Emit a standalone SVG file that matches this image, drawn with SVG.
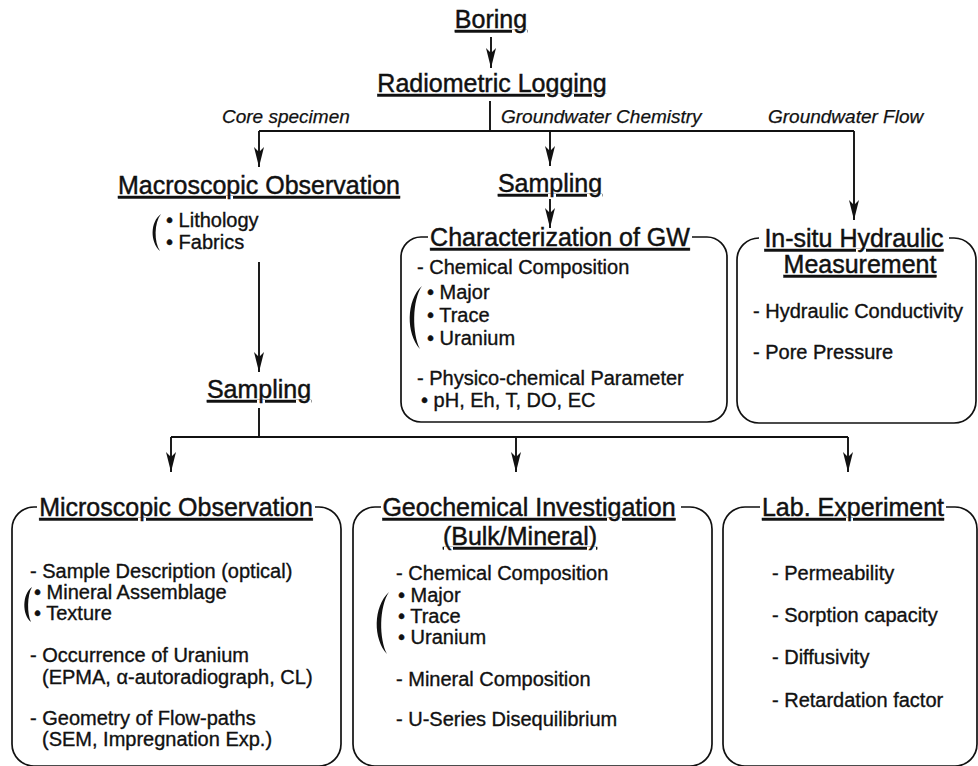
<svg xmlns="http://www.w3.org/2000/svg" width="978" height="766" viewBox="0 0 978 766">
  <style>
    text { font-family: "Liberation Sans", Arial, Helvetica, sans-serif; fill: #111; stroke: #111; stroke-width: 0.35; }
    .hd { font-size: 25px; text-decoration: underline; stroke-width: 0.45; }
    .bd { font-size: 20px; }
    .it { font-size: 19px; font-style: italic; stroke-width: 0.25; }
    .box { fill: none; stroke: #111; stroke-width: 1.7; }
    .ln { fill: none; stroke: #111; stroke-width: 1.9; }
    .arw { fill: none; stroke: #111; stroke-width: 1.9; marker-end: url(#head); }
    .br { fill: #111; stroke: none; }
  </style>
  <defs>
    <marker id="head" markerUnits="userSpaceOnUse" markerWidth="22" markerHeight="14" refX="20" refY="7" orient="auto">
      <path d="M0,2 L20,7 L0,12 L5,7 Z" fill="#111"/>
    </marker>
  </defs>

  <!-- connectors -->
  <g id="connectors">
    <line class="arw" x1="491" y1="37" x2="491" y2="68"/>
    <line class="ln" x1="490" y1="101" x2="490" y2="131"/>
    <line class="ln" x1="259" y1="131" x2="854" y2="131"/>
    <line class="arw" x1="259" y1="131" x2="259" y2="167"/>
    <line class="arw" x1="550" y1="131" x2="550" y2="166"/>
    <line class="arw" x1="854" y1="131" x2="854" y2="220"/>
    <line class="arw" x1="550" y1="199" x2="550" y2="228"/>
    <line class="arw" x1="259" y1="262" x2="259" y2="372"/>
    <line class="ln" x1="259" y1="408" x2="259" y2="437"/>
    <line class="ln" x1="171" y1="437" x2="848" y2="437"/>
    <line class="arw" x1="171" y1="437" x2="171" y2="472"/>
    <line class="arw" x1="516" y1="437" x2="516" y2="472"/>
    <line class="arw" x1="848" y1="437" x2="848" y2="472"/>
  </g>

  <g id="boring">
    <text class="hd" x="491" y="28" text-anchor="middle">Boring</text>
  </g>

  <g id="radiometric-logging">
    <text class="hd" x="492" y="92" text-anchor="middle">Radiometric Logging</text>
  </g>

  <g id="branch-labels">
    <text class="it" x="222" y="123">Core specimen</text>
    <text class="it" x="501" y="123">Groundwater Chemistry</text>
    <text class="it" x="768" y="123">Groundwater Flow</text>
  </g>

  <g id="macroscopic-observation">
    <text class="hd" x="259" y="194" text-anchor="middle">Macroscopic Observation</text>
    <path class="br" d="M161,214 C150,222 150,242 160,251 C154,242 154,223 161,214 Z"/>
    <text class="bd" x="166" y="227">• Lithology</text>
    <text class="bd" x="166" y="249">• Fabrics</text>
  </g>

  <g id="sampling-gw">
    <text class="hd" x="550" y="192" text-anchor="middle">Sampling</text>
  </g>

  <g id="characterization-gw">
    <path class="box" d="M428,237 H421 A20,20 0 0 0 401,257 V402 A20,20 0 0 0 421,422 H707 A20,20 0 0 0 727,402 V257 A20,20 0 0 0 707,237 H692"/>
    <text class="hd" x="560" y="246" text-anchor="middle">Characterization of GW</text>
    <text class="bd" x="417" y="274">- Chemical Composition</text>
    <path class="br" d="M422,286 C406,300 406,334 420,349 C412,334 412,300 422,286 Z"/>
    <text class="bd" x="427" y="299">• Major</text>
    <text class="bd" x="427" y="322">• Trace</text>
    <text class="bd" x="427" y="345">• Uranium</text>
    <text class="bd" x="417" y="385">- Physico-chemical Parameter</text>
    <text class="bd" x="421" y="407">• pH, Eh, T, DO, EC</text>
  </g>

  <g id="in-situ-hydraulic">
    <path class="box" d="M759,238 A22,22 0 0 0 737,260 V401 A22,22 0 0 0 759,423 H954 A22,22 0 0 0 976,401 V260 A22,22 0 0 0 954,238 H949"/>
    <text class="hd" x="854" y="247" text-anchor="middle">In-situ Hydraulic</text>
    <text class="hd" x="860" y="273" text-anchor="middle">Measurement</text>
    <text class="bd" x="753" y="318">- Hydraulic Conductivity</text>
    <text class="bd" x="753" y="359">- Pore Pressure</text>
  </g>

  <g id="sampling-core">
    <text class="hd" x="259" y="398" text-anchor="middle">Sampling</text>
  </g>

  <g id="microscopic-observation">
    <path class="box" d="M37,507 H34 A22,22 0 0 0 12,529 V744 A22,22 0 0 0 34,766 H319 A22,22 0 0 0 341,744 V529 A22,22 0 0 0 319,507 H315"/>
    <text class="hd" x="176" y="516" text-anchor="middle">Microscopic Observation</text>
    <text class="bd" x="30" y="578">- Sample Description (optical)</text>
    <path class="br" d="M32,587 C22,594 22,615 31,622 C27,614 27,595 32,587 Z"/>
    <text class="bd" x="34" y="599">• Mineral Assemblage</text>
    <text class="bd" x="34" y="620">• Texture</text>
    <text class="bd" x="30" y="662">- Occurrence of Uranium</text>
    <text class="bd" x="42" y="684">(EPMA, α-autoradiograph, CL)</text>
    <text class="bd" x="30" y="725">- Geometry of Flow-paths</text>
    <text class="bd" x="42" y="746">(SEM, Impregnation Exp.)</text>
  </g>

  <g id="geochemical-investigation">
    <path class="box" d="M381,507 H375 A22,22 0 0 0 353,529 V744 A22,22 0 0 0 375,766 H690 A22,22 0 0 0 712,744 V529 A22,22 0 0 0 690,507 H681"/>
    <text class="hd" x="529" y="516" text-anchor="middle">Geochemical Investigation</text>
    <text class="hd" x="520" y="545" text-anchor="middle">(Bulk/Mineral)</text>
    <text class="bd" x="396" y="580">- Chemical Composition</text>
    <path class="br" d="M389,592 C373,607 373,639 387,654 C379,639 379,607 389,592 Z"/>
    <text class="bd" x="398" y="602">• Major</text>
    <text class="bd" x="398" y="623">• Trace</text>
    <text class="bd" x="398" y="644">• Uranium</text>
    <text class="bd" x="396" y="686">- Mineral Composition</text>
    <text class="bd" x="396" y="726">- U-Series Disequilibrium</text>
  </g>

  <g id="lab-experiment">
    <path class="box" d="M760,507 H745 A22,22 0 0 0 723,529 V744 A22,22 0 0 0 745,766 H955 A22,22 0 0 0 977,744 V529 A22,22 0 0 0 955,507 H946"/>
    <text class="hd" x="853" y="516" text-anchor="middle">Lab. Experiment</text>
    <text class="bd" x="772" y="580">- Permeability</text>
    <text class="bd" x="772" y="622">- Sorption capacity</text>
    <text class="bd" x="772" y="664">- Diffusivity</text>
    <text class="bd" x="772" y="707">- Retardation factor</text>
  </g>
</svg>
